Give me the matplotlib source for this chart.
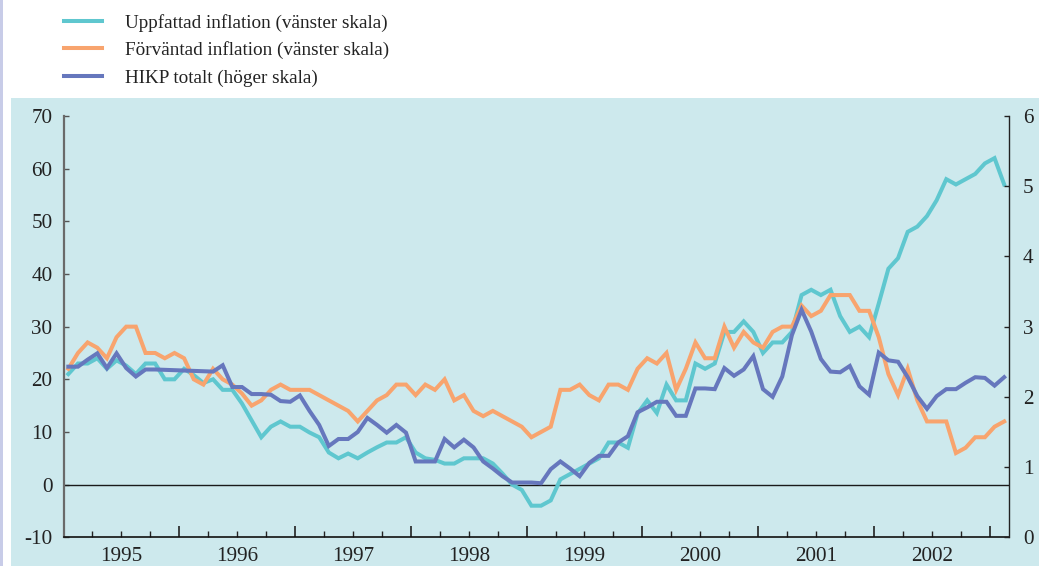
import matplotlib
matplotlib.use('Agg')
import matplotlib.pyplot as plt
import numpy as np
import pandas as pd
from matplotlib.patches import Rectangle
from matplotlib.lines import Line2D
from matplotlib.ticker import FixedLocator, FuncFormatter

plt.rcParams['font.family'] = ['Liberation Serif', 'DejaVu Serif']
plt.rcParams['axes.unicode_minus'] = False

# ---- data (monthly, Jan 1995 - Feb 2003) ----
months = pd.period_range('1995-01', '2003-02', freq='M')

uppfattad = [21, 23, 23, 24, 22, 23.6, 22.6, 21, 23, 23, 20, 20,
             22, 20.8, 19.3, 20, 18, 18, 15.4, 12.2, 9, 11, 12, 11,
             11, 9.9, 9, 6.1, 5, 5.9, 5, 6.1, 7.1, 8, 8, 9,
             6.1, 5, 4.7, 4, 4, 5, 5, 5, 4, 2.1, 0, -1,
             -4, -4, -3, 1, 2, 3, 4, 5, 8, 8, 7, 13.5,
             16, 13.6, 19, 16, 16, 23, 22, 23, 29, 29, 31, 29,
             25, 27, 27, 29, 36, 37, 36, 37, 32, 29, 30, 28,
             34.4, 41, 43, 48, 49, 51, 54, 58, 57, 58, 59, 61,
             62, 57]

forvantad = [22, 25, 27, 26, 24, 28, 30, 30, 25, 25, 24, 25,
             24, 20, 19, 22, 20, 19, 17.3, 15, 16, 18, 19, 18,
             18, 18, 17, 16, 15, 14, 12, 14, 16, 17, 19, 19,
             17, 19, 18, 20, 16, 17, 14, 13, 14, 13, 12, 11,
             9, 10, 11, 18, 18, 19, 17, 16, 19, 19, 18, 22,
             24, 23, 25, 18, 22, 27, 24, 24, 30, 26, 29, 27,
             26, 29, 30, 30, 34, 32, 33, 36, 36, 36, 33, 33,
             28, 21, 17, 22, 16, 12, 12, 12, 6, 7, 9, 9,
             11, 12]

hikp = [2.43, 2.43, 2.53, 2.62, 2.41, 2.62, 2.41, 2.29, 2.39, 2.39, 2.385, 2.38,
        2.375, 2.37, 2.365, 2.36, 2.45, 2.14, 2.14, 2.04, 2.04, 2.03, 1.94, 1.93,
        2.02, 1.80, 1.60, 1.30, 1.40, 1.40, 1.50, 1.70, 1.60, 1.49, 1.60, 1.49,
        1.08, 1.08, 1.08, 1.40, 1.28, 1.39, 1.28, 1.08, 0.98, 0.87, 0.78, 0.78,
        0.78, 0.77, 0.97, 1.08, 0.98, 0.87, 1.06, 1.16, 1.16, 1.35, 1.44, 1.78,
        1.85, 1.93, 1.93, 1.73, 1.73, 2.12, 2.12, 2.11, 2.41, 2.30, 2.39, 2.58,
        2.11, 2.00, 2.29, 2.88, 3.24, 2.93, 2.54, 2.36, 2.35, 2.44, 2.15, 2.03,
        2.63, 2.52, 2.50, 2.28, 2.01, 1.83, 2.01, 2.11, 2.11, 2.20, 2.28, 2.27,
        2.16, 2.28]

labels = ['Uppfattad inflation (vänster skala)',
          'Förväntad inflation (vänster skala)',
          'HIKP totalt (höger skala)']
years = list(range(1995, 2003))
left_ticks = list(range(-10, 71, 10))
right_ticks = list(range(0, 7))

# ---- styles ----
c_cyan = '#5fc7cf'
c_orange = '#f8a46e'
c_blue = '#6677bd'
bg = '#cde9ed'
txt = '#222222'
lw = 2.9
fs = 13.8      # legend text
tfs = 15.2     # tick labels

x = np.asarray(months.year + (months.month - 0.5) / 12.0, dtype=float)

fig = plt.figure(figsize=(10.39, 5.66), dpi=100)
fig.patch.set_facecolor('white')
W, H = 1039.0, 566.0
fig.patches.append(Rectangle((11 / W, 0), 1 - 11 / W, (H - 98) / H,
                             transform=fig.transFigure, facecolor=bg,
                             edgecolor='none', zorder=-10))
fig.patches.append(Rectangle((0, 0), 3 / W, 1, transform=fig.transFigure,
                             facecolor='#c8cce8', edgecolor='none', zorder=-10))

ax = fig.add_axes([63.5 / W, (H - 537.3) / H, (1009 - 63.5) / W, (537.3 - 116) / H])
ax.set_facecolor('none')
ax2 = ax.twinx()
ax2.set_facecolor('none')

l1, = ax.plot(x, uppfattad, color=c_cyan, lw=lw, solid_joinstyle='miter', zorder=3)
l2, = ax.plot(x, forvantad, color=c_orange, lw=lw, solid_joinstyle='miter', zorder=3)
l3, = ax2.plot(x, hikp, color=c_blue, lw=lw, solid_joinstyle='miter', zorder=3)
ax.axhline(0, color='#1a1a1a', lw=1.0, zorder=2)

ax.set_xlim(1995, 1995 + 98 / 12.0)
ax.set_ylim(-10, 70)
ax2.set_ylim(0, 6)

# x ticks: long at year boundaries, short at quarters, labels mid-year
ax.xaxis.set_major_locator(FixedLocator([y for y in range(1995, 2004)]))
ax.xaxis.set_major_formatter(FuncFormatter(lambda v, p: ''))
q = [y + k / 4 for y in years for k in (1, 2, 3)]
ax.xaxis.set_minor_locator(FixedLocator(q))
ax.xaxis.set_minor_formatter(FuncFormatter(
    lambda v, p: str(int(v)) if abs(v - int(v) - 0.5) < 1e-6 else ''))
ax.tick_params(axis='x', which='major', direction='in', length=8, width=1.2,
               color='#222222')
ax.tick_params(axis='x', which='minor', direction='in', length=4.5, width=1.0,
               color='#222222', labelsize=tfs, labelcolor=txt, pad=7)

ax.set_yticks(left_ticks)
ax.tick_params(axis='y', direction='in', length=3.5, width=1.0, color='#555555',
               labelsize=tfs, labelcolor=txt, pad=8)
ax2.set_yticks(right_ticks)
ax2.tick_params(axis='y', direction='in', length=3.5, width=1.0, color='#222222',
                labelsize=tfs, labelcolor=txt, pad=10)

for a in (ax, ax2):
    a.spines['top'].set_visible(False)
ax.spines['left'].set_color('#6a6a6a')
ax.spines['left'].set_linewidth(1.6)
ax.spines['right'].set_visible(False)
ax2.spines['left'].set_visible(False)
ax2.spines['bottom'].set_visible(False)
ax2.spines['right'].set_color('#222222')
ax2.spines['right'].set_linewidth(1.0)
ax.spines['bottom'].set_color('#111111')
ax.spines['bottom'].set_linewidth(1.2)

# legend (top-left, outside the shaded area)
for (line, lab, ypx) in zip((l1, l2, l3), labels, (21, 48, 76)):
    yf = 1 - ypx / H
    fig.lines.append(Line2D([64 / W, 102 / W], [yf, yf], transform=fig.transFigure,
                            color=line.get_color(), lw=lw))
    fig.text(125 / W, 1 - (ypx + 2) / H, lab, fontsize=fs, color=txt,
             va='center', ha='left')

fig.savefig('out.png', dpi=100, facecolor='white')
